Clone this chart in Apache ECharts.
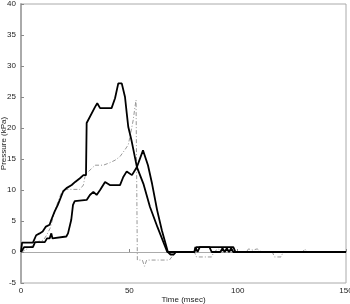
<!DOCTYPE html>
<html><head><meta charset="utf-8">
<script src="https://cdn.jsdelivr.net/npm/echarts@6/dist/echarts.min.js"></script>
<style>html,body{margin:0;padding:0;background:#fff}#c{width:350px;height:304px}</style>
</head><body><div id="c"></div>
<script>
// Series A: thick black, highest peak (~27 kPa)
const tA = [0,0.5,5.5,7,8.6,10,11.5,13.2,14,15.5,17,18.8,19.5,21,23.4,25,27.2,28.8,30,30.3,31,34.2,35.2,36.5,41.8,43.4,44.9,46.5,48,48.8,49.5,51,53.5,56.5,59.5,63,67.5,80,81,98,99,150];
const vA = [0,1.5,1.5,2.7,3,3.3,4.1,4.4,5.2,6.5,7.6,9.2,9.8,10.3,10.8,11.3,11.9,12.4,12.4,20.8,21,23.4,24,23.2,23.2,24.8,27.2,27.2,25,22.4,20.2,18,13.7,11,7.3,4,0,0,0.8,0.8,0,0];
// Series B: thick black, later peak (~16 kPa)
const tB = [0,1.5,5.5,6.5,11,12,13.2,14,14.5,20.9,21.7,22.5,23.2,24,24.8,30.3,31.8,33.4,34.9,36.5,38.8,39.5,41,45.7,47.2,48.8,49.5,51.2,53.5,56.3,57.2,58.6,60.5,62.8,65,67.8,69,70.5,71.5,80,80.5,81.5,82.5,87,88,92,93,94,95,96,97,98,150];
const vB = [0,0.8,0.8,1.6,1.6,2.2,2.2,3,2.2,2.5,3,3.3,5.2,7.6,8.2,8.4,9.2,9.7,9.2,10,11.3,11.6,10.8,10.8,12.1,13,12.7,12.4,13.7,16.4,16.2,14,11,6.8,3.5,0,-0.4,-0.4,0,0,0.8,0,0.8,0.8,0,0,0.6,0,0.6,0,0.6,0,0];
// Series C: grey dash-dot
const tC = [0,1.8,5.7,8,10.3,11.8,13.4,14.9,15.7,18.8,20.3,27.2,28.8,29.5,30.3,34.2,38,41,43.4,45.7,48,49.5,50.3,51.8,52.6,53.1,53.5,53.7,56,57,58,68.5,70,71,72,80,81,88,89,91,93,104,105,107,109,111,116,117,120,121,130,131,132,150];
const vC = [0,0.3,1.1,1.7,1.9,2.7,3.8,5.7,6.8,9.7,10.1,10.1,10.8,12.1,12.7,14,14,14.4,14.8,15.4,16.5,17.3,18.6,21.3,23.4,24.5,24.5,-1.3,-1.3,-2.3,-1.3,-1.3,-0.6,-0.3,0,0,-0.8,-0.8,0,0.5,0,0,0.5,0.3,0.5,0,0,-0.8,-0.8,0,0,0.5,0,0];
const xTicks = [0,50,100,150];
const yTicks = [-5,0,5,10,15,20,25,30,35,40];

const zip = (t,v)=>t.map((x,i)=>[x,v[i]]);
const font = 'Liberation Sans, Arial, sans-serif';
const chart = echarts.init(document.getElementById('c'), null, {renderer:'canvas'});
chart.setOption({
  animation:false,
  backgroundColor:'#fff',
  grid:{left:21,right:4,top:4,bottom:21,containLabel:false,outerBoundsMode:'none',show:true,borderColor:'#aaa',borderWidth:1},
  xAxis:{type:'value',min:xTicks[0],max:xTicks[xTicks.length-1],interval:50,
    name:'Time (msec)',nameLocation:'middle',nameGap:13,nameMoveOverlap:false,
    nameTextStyle:{fontFamily:font,fontSize:8,color:'#222'},
    axisLine:{lineStyle:{color:'#aaa',width:1}},
    axisTick:{inside:true,length:3,lineStyle:{color:'#888'}},
    axisLabel:{fontFamily:font,fontSize:8,color:'#222',margin:4},
    splitLine:{show:false}},
  yAxis:{type:'value',min:yTicks[0],max:yTicks[yTicks.length-1],interval:5,
    name:'Pressure (kPa)',nameLocation:'middle',nameGap:13,nameMoveOverlap:false,
    nameTextStyle:{fontFamily:font,fontSize:8,color:'#222'},
    axisLine:{lineStyle:{color:'#aaa',width:2}},
    axisTick:{inside:true,length:3,lineStyle:{color:'#888'}},
    axisLabel:{fontFamily:font,fontSize:8,color:'#222',margin:5},
    splitLine:{show:false}},
  series:[
    {type:'line',data:zip(tC,vC),showSymbol:false,z:1,
      lineStyle:{color:'#999',width:1,type:[4,2,1,2]}},
    {type:'line',data:zip(tB,vB),showSymbol:false,z:2,
      lineStyle:{color:'#000',width:1.8}},
    {type:'line',data:zip(tA,vA),showSymbol:false,z:3,
      lineStyle:{color:'#000',width:1.8}}
  ]
});
</script></body></html>
